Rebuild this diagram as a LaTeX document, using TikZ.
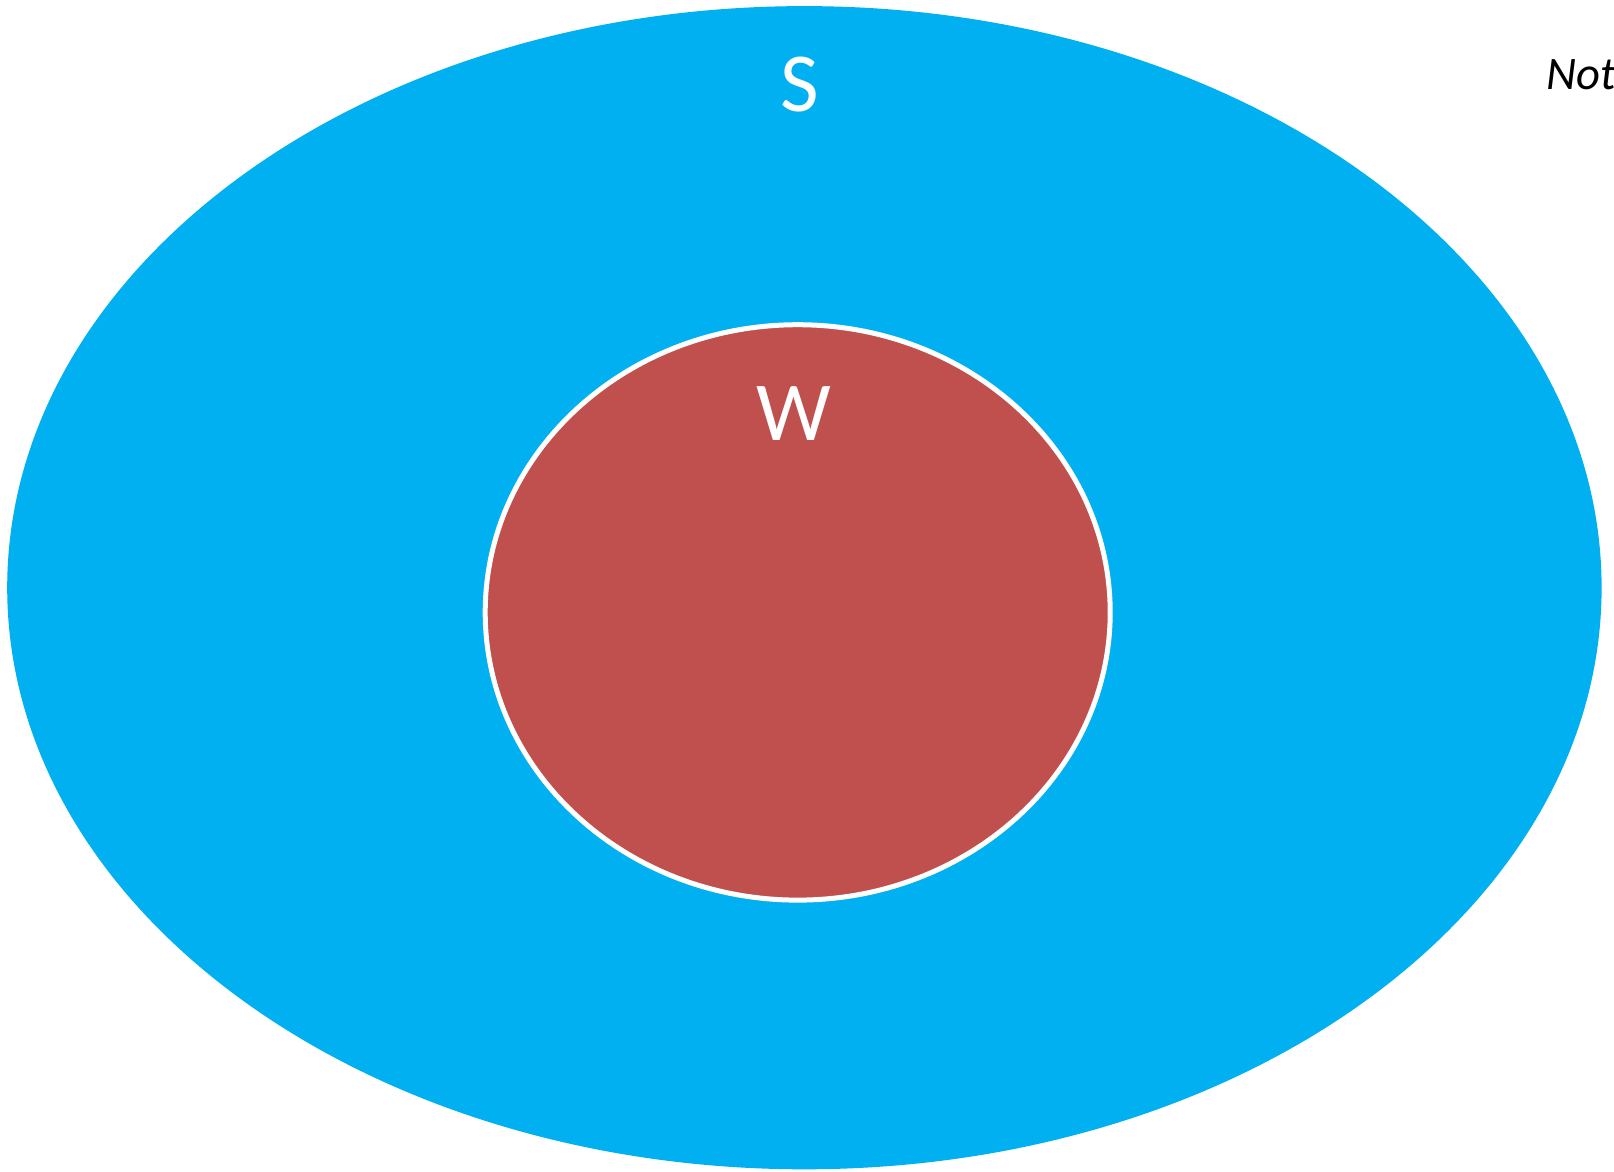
\documentclass[tikz,border=0pt]{standalone}
\usepackage{fontspec}
\setmainfont{Carlito}
\usepackage{xcolor}
\definecolor{setblue}{HTML}{00B0F0}
\definecolor{setred}{HTML}{C0504D}
\usepackage{tikz}

\begin{document}
\begin{tikzpicture}[x=1pt,y=-1pt,
  lbl/.style={anchor=base, text=white, font=\fontsize{84}{90}\selectfont}]
\useasboundingbox (0,0) rectangle (1614,1171);
\fill[setblue] (804.4,587.7) ellipse [x radius=797.2, y radius=581.6];
\filldraw[fill=setred, draw=white, line width=5pt] (797.7,612.4) ellipse [x radius=312.5, y radius=287.7];
\node[lbl] (S) at (800,111) {S};
\node[lbl] (W) at (793.6,440.5) {W};
%\node (note) ... cut off at the page edge
\node[anchor=base west, inner sep=0pt, font=\fontsize{46.6}{50}\selectfont\itshape] (note) at (1546,89.5) {Not};
\end{tikzpicture}
\end{document}
